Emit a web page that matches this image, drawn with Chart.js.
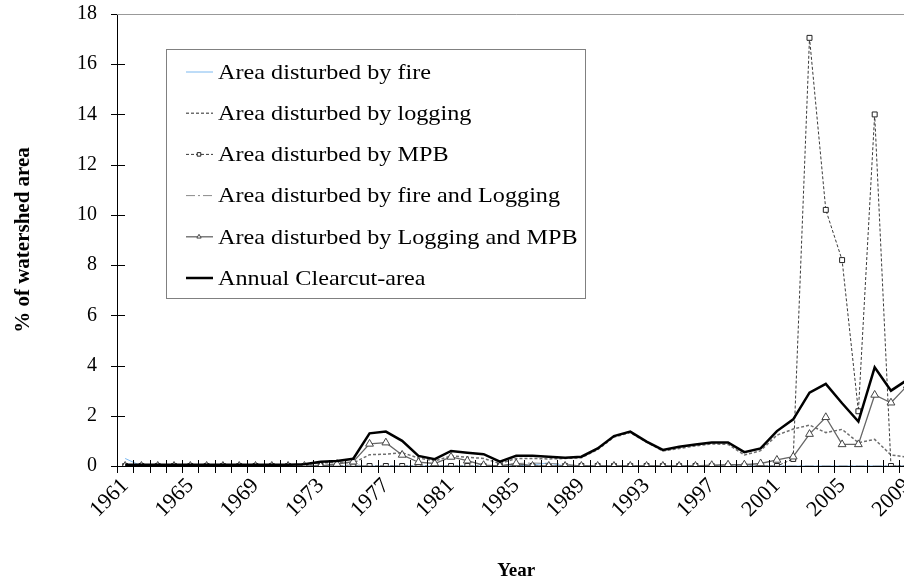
<!DOCTYPE html>
<html>
<head>
<meta charset="utf-8">
<script src="https://cdn.jsdelivr.net/npm/chart.js@4.4.0/dist/chart.umd.min.js"></script>
<style>
  html, body { margin: 0; padding: 0; background: #fff; overflow: hidden; }
  #wrap { width: 926px; height: 582px; }
</style>
</head>
<body>
<div id="wrap"><canvas id="chart" width="926" height="582"></canvas></div>
<script>
const years = ["1961","1962","1963","1964","1965","1966","1967","1968","1969","1970",
  "1971","1972","1973","1974","1975","1976","1977","1978","1979","1980",
  "1981","1982","1983","1984","1985","1986","1987","1988","1989","1990",
  "1991","1992","1993","1994","1995","1996","1997","1998","1999","2000",
  "2001","2002","2003","2004","2005","2006","2007","2008","2009"];

// % of watershed area, 1961 - 2009
const fire = [0.3,0,0,0,0,0,0,0,0,0, 0,0,0,0,0,0,0,0,0,0,
  0,0,0,0,0,0.05,0.12,0,0,0, 0,0,0,0,0,0,0,0,0,0,
  0,0,0,0,0,0,0,0,0];
const logging = [0.02,0.02,0.02,0.02,0.02,0.02,0.02,0.02,0.02,0.02,
  0.02,0.05,0.12,0.15,0.12,0.45,0.47,0.53,0.32,0.2,
  0.4,0.35,0.3,0.1,0.3,0.3,0.28,0.3,0.33,0.65,
  1.15,1.33,0.95,0.6,0.7,0.8,0.88,0.86,0.44,0.61,
  1.23,1.47,1.63,1.33,1.46,0.93,1.06,0.44,0.35];
const mpb = [0,0,0,0,0,0,0,0,0,0, 0,0,0,0,0,0,0,0,0,0,
  0,0,0,0,0,0,0,0,0,0, 0,0,0,0,0,0,0,0,0,0,
  0,0.28,17.05,10.2,8.2,2.18,14.0,0,0];
const fireLogging = [0,0,0,0,0,0,0,0,0,0, 0,0,0,0,0.05,0,0,0,0,0,
  0,0,0,0,0.1,0.12,0.1,0.08,0,0, 0,0,0,0,0,0,0,0,0,0,
  0,0,0,0,0,0,0,0,0];
const loggingMpb = [0,0,0,0,0,0,0,0,0,0, 0,0,0,0.08,0.17,0.88,0.93,0.44,0.15,0.1,
  0.36,0.21,0.03,0,0.1,0,0,0,0,0, 0,0,0,0,0,0,0.03,0.05,0.05,0.1,
  0.24,0.37,1.27,1.94,0.86,0.86,2.83,2.52,3.2];
const clearcut = [0.05,0.05,0.05,0.05,0.05,0.05,0.05,0.05,0.05,0.05,
  0.05,0.07,0.17,0.2,0.29,1.3,1.37,1.0,0.4,0.27,
  0.6,0.53,0.47,0.17,0.41,0.41,0.37,0.33,0.37,0.7,
  1.19,1.37,0.97,0.64,0.77,0.86,0.94,0.94,0.55,0.7,
  1.39,1.86,2.92,3.27,2.5,1.77,3.93,3.0,3.43];

const seriesNames = ["Area disturbed by fire", "Area disturbed by logging", "Area disturbed by MPB",
  "Area disturbed by fire and Logging", "Area disturbed by Logging and MPB", "Annual Clearcut-area"];

const serif = "'Liberation Serif', 'Times New Roman', serif";

// excel-style crossing tick marks + top border of the plot area
const axisTicks = {
  id: 'axisTicks',
  afterDatasetsDraw(chart) {
    const { ctx, chartArea, scales } = chart;
    const x = scales.x, y = scales.y;
    ctx.save();
    ctx.strokeStyle = '#000';
    ctx.lineWidth = 1;
    const step = x.width / years.length;
    ctx.beginPath();
    for (let i = 0; i <= years.length; i++) {
      const px = Math.round(chartArea.left + i * step) + 0.5;
      ctx.moveTo(px, chartArea.bottom - 6);
      ctx.lineTo(px, chartArea.bottom + 7);
    }
    y.ticks.forEach(t => {
      const py = Math.round(y.getPixelForValue(t.value)) + 0.5;
      ctx.moveTo(chartArea.left - 6, py);
      ctx.lineTo(chartArea.left + 8, py);
    });
    ctx.stroke();
    ctx.strokeStyle = '#999';
    ctx.beginPath();
    ctx.moveTo(chartArea.left, chartArea.top + 0.5);
    ctx.lineTo(chartArea.right, chartArea.top + 0.5);
    ctx.stroke();
    ctx.restore();
  }
};

// boxed legend inside the plot area
const legendBox = {
  id: 'legendBox',
  afterDraw(chart) {
    const { ctx, chartArea } = chart;
    const left = chartArea.left + 49, top = chartArea.top + 35;
    const w = 419, h = 249;
    ctx.save();
    ctx.fillStyle = '#fff';
    ctx.fillRect(left, top, w, h);
    ctx.strokeStyle = '#808080';
    ctx.lineWidth = 1;
    ctx.strokeRect(left + 0.5, top + 0.5, w, h);
    chart.data.datasets.forEach((ds, i) => {
      const cy = top + 23 + i * 41.2;
      ctx.save();
      ctx.strokeStyle = ds.borderColor;
      ctx.lineWidth = ds.borderWidth;
      ctx.setLineDash(ds.borderDash || []);
      ctx.beginPath();
      ctx.moveTo(left + 20, cy);
      ctx.lineTo(left + 47, cy);
      ctx.stroke();
      ctx.restore();
      if (ds.pointRadius > 0) {
        ctx.save();
        ctx.fillStyle = ds.pointBackgroundColor;
        ctx.strokeStyle = ds.pointBorderColor;
        ctx.lineWidth = 1;
        Chart.helpers.drawPoint(ctx, { pointStyle: ds.pointStyle, radius: 2.5, borderWidth: 1 }, left + 33, cy);
        ctx.restore();
      }
      ctx.save();
      ctx.translate(left + 52, cy);
      ctx.scale(1.1, 1);
      ctx.fillStyle = '#000';
      ctx.font = "22px " + serif;
      ctx.textBaseline = 'middle';
      ctx.fillText(ds.label, 0, 1);
      ctx.restore();
    });
    ctx.restore();
  }
};

new Chart(document.getElementById('chart'), {
  type: 'line',
  data: {
    labels: years,
    datasets: [
      { label: seriesNames[0], data: fire, borderColor: '#7db9f0', borderWidth: 1,
        pointRadius: 0, order: 6 },
      { label: seriesNames[1], data: logging, borderColor: '#6e6e6e', borderWidth: 1.5,
        borderDash: [3, 2], pointRadius: 0, order: 5 },
      { label: seriesNames[2], data: mpb, borderColor: '#3a3a3a', borderWidth: 1,
        borderDash: [3, 2], pointStyle: 'rect', pointRadius: 3.5, pointBorderWidth: 1,
        pointBackgroundColor: '#fff', pointBorderColor: '#222', order: 4 },
      { label: seriesNames[3], data: fireLogging, borderColor: '#8a8a8a', borderWidth: 1,
        borderDash: [9, 3, 2, 3], pointRadius: 0, order: 3 },
      { label: seriesNames[4], data: loggingMpb, borderColor: '#666', borderWidth: 1.3,
        pointStyle: 'triangle', pointRadius: 4.5, pointBorderWidth: 1,
        pointBackgroundColor: '#fff', pointBorderColor: '#444', order: 2 },
      { label: seriesNames[5], data: clearcut, borderColor: '#000', borderWidth: 2.5,
        pointRadius: 0, order: 1 }
    ]
  },
  options: {
    responsive: false,
    animation: false,
    devicePixelRatio: 1,
    layout: { padding: { top: 14, right: 6, left: 0, bottom: 0 } },
    plugins: { legend: { display: false }, tooltip: { enabled: false } },
    elements: { line: { tension: 0 } },
    scales: {
      x: {
        type: 'category',
        offset: true,
        grid: { display: true, drawOnChartArea: false, drawTicks: true, tickLength: 7,
          color: 'rgba(0,0,0,0)' },
        border: { display: true, color: '#000', width: 1 },
        ticks: {
          autoSkip: false, minRotation: 45, maxRotation: 45, padding: 0, color: '#000',
          font: { family: serif, size: 22 },
          callback: (v, i) => (i % 4 === 0 ? years[i] : '')
        },
        title: { display: true, text: 'Year', color: '#000',
          font: { family: serif, size: 19, weight: 'bold' }, padding: { top: 0, bottom: 0 } },
        afterFit: s => { s.height = 116; }
      },
      y: {
        min: 0, max: 18,
        grid: { display: true, drawOnChartArea: false, drawTicks: true, tickLength: 20,
          color: 'rgba(0,0,0,0)' },
        border: { display: true, color: '#000', width: 1 },
        ticks: { stepSize: 2, padding: 0, color: '#000', font: { family: serif, size: 20 } },
        title: { display: true, text: '% of watershed area', color: '#000',
          font: { family: serif, size: 21, weight: 'bold' }, padding: { top: 11, bottom: 0 } },
        afterFit: s => { s.width = 117; }
      }
    }
  },
  plugins: [axisTicks, legendBox]
});
</script>
</body>
</html>
